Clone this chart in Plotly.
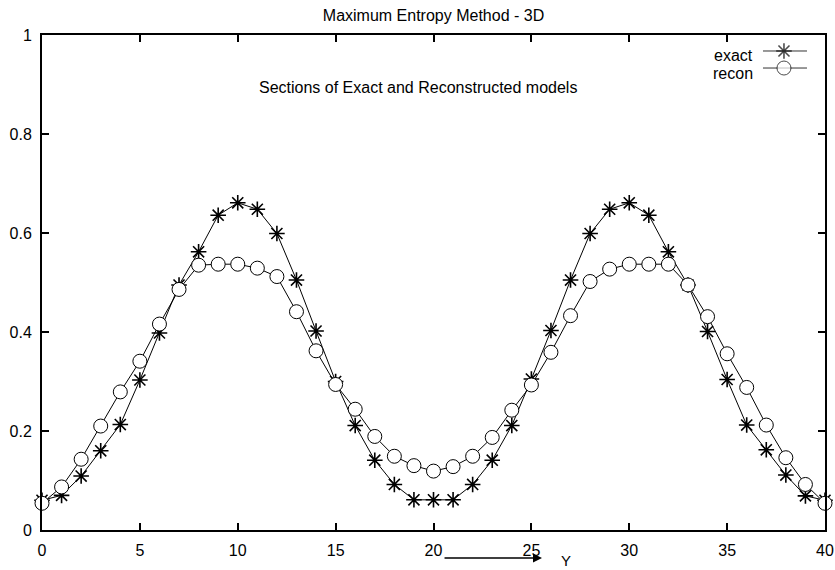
import plotly.graph_objects as go

# ---- data ----
y_pos = list(range(41))
exact = [0.060, 0.070, 0.109, 0.160, 0.213, 0.303, 0.398, 0.495, 0.562, 0.636,
         0.661, 0.648, 0.599, 0.505, 0.402, 0.300, 0.211, 0.141, 0.092, 0.061,
         0.061, 0.061, 0.092, 0.141, 0.211, 0.305, 0.403, 0.505, 0.599, 0.648,
         0.661, 0.636, 0.562, 0.495, 0.401, 0.304, 0.212, 0.162, 0.111, 0.069,
         0.060]
recon = [0.054, 0.087, 0.143, 0.210, 0.279, 0.341, 0.416, 0.486, 0.535, 0.537,
         0.537, 0.529, 0.512, 0.441, 0.362, 0.294, 0.244, 0.189, 0.149, 0.130,
         0.119, 0.128, 0.149, 0.187, 0.242, 0.293, 0.359, 0.433, 0.502, 0.527,
         0.537, 0.537, 0.537, 0.495, 0.431, 0.356, 0.288, 0.212, 0.146, 0.092,
         0.054]
x_ticks = [0, 5, 10, 15, 20, 25, 30, 35, 40]
y_ticks = [0, 0.2, 0.4, 0.6, 0.8, 1]
series_names = ["exact", "recon"]

FONT = "Liberation Sans, Arial, sans-serif"
FS = 16

fig = go.Figure()
fig.add_trace(go.Scatter(
    x=y_pos, y=exact, mode="lines+markers", name=series_names[0],
    line=dict(color="black", width=1),
    marker=dict(symbol="asterisk-open", size=13, color="black",
                line=dict(color="black", width=1.6)),
    cliponaxis=False, showlegend=False))
fig.add_trace(go.Scatter(
    x=y_pos, y=recon, mode="lines+markers", name=series_names[1],
    line=dict(color="black", width=1),
    marker=dict(symbol="circle", size=14, color="white",
                line=dict(color="black", width=1)),
    cliponaxis=False, showlegend=False))

# legend key (drawn on an overlay axis in paper-like units)
key_y = [0.9677, 0.9333]
text_y = [0.9576, 0.9222]
key_x0, key_x1, key_xm = 0.9208, 0.977, 0.9476
for i, (nm, sym, fill, lw) in enumerate([(series_names[0], "asterisk-open", "black", 1.6),
                                         (series_names[1], "circle", "white", 1)]):
    fig.add_trace(go.Scatter(
        x=[key_x0, key_xm, key_x1], y=[key_y[i]] * 3, mode="lines+markers",
        xaxis="x2", yaxis="y2", showlegend=False, cliponaxis=False,
        line=dict(color="#333333", width=1),
        marker=dict(symbol=sym, size=[0, 13 if i == 0 else 14, 0], color=fill,
                    line=dict(color="black", width=lw)),
        hoverinfo="skip"))
    fig.add_annotation(x=0.9106, y=text_y[i], xref="paper", yref="paper",
                       text=nm, showarrow=False, xanchor="right", yanchor="middle",
                       font=dict(family=FONT, size=FS, color="black"))

axis_common = dict(showline=True, linecolor="black", linewidth=2, mirror="ticks",
                   ticks="inside", ticklen=7, tickwidth=1.5, tickcolor="black",
                   showgrid=False, zeroline=False, automargin=False,
                   tickfont=dict(family=FONT, size=FS, color="black"))

fig.update_layout(
    width=835, height=570,
    margin=dict(l=42, r=10, t=35, b=40, autoexpand=False),
    paper_bgcolor="white", plot_bgcolor="white",
    title=dict(text="Maximum Entropy Method - 3D", x=0.5, xref="paper",
               y=1 - 15 / 570, yanchor="middle", xanchor="center",
               font=dict(family=FONT, size=FS, color="black"), automargin=False),
    xaxis=dict(range=[0, 40], tickvals=x_ticks, ticklabelstandoff=5, **axis_common),
    yaxis=dict(range=[0, 1], tickvals=y_ticks, ticklabelstandoff=5, **axis_common),
    xaxis2=dict(range=[0, 1], overlaying="x", visible=False),
    yaxis2=dict(range=[0, 1], overlaying="y", visible=False),
)

fig.add_annotation(x=0.480, y=0.893, xref="paper", yref="paper",
                   text="Sections of Exact and Reconstructed models", showarrow=False,
                   xanchor="center", yanchor="middle",
                   font=dict(family=FONT, size=FS, color="black"))

# "Y" direction arrow below the axis
fig.add_annotation(x=0.6386, y=-0.0566, xref="paper", yref="paper", text="",
                   showarrow=True, ax=-99, ay=0, arrowhead=2, arrowsize=1.2,
                   arrowwidth=1.5, arrowcolor="black")
fig.add_annotation(x=0.669, y=-0.0626, xref="paper", yref="paper", text="Y",
                   showarrow=False, xanchor="center", yanchor="middle",
                   font=dict(family=FONT, size=15, color="black"))

fig.write_html("out.html", config={"displayModeBar": False},
               post_script="document.body.style.margin='0';document.body.style.overflow='hidden';")
